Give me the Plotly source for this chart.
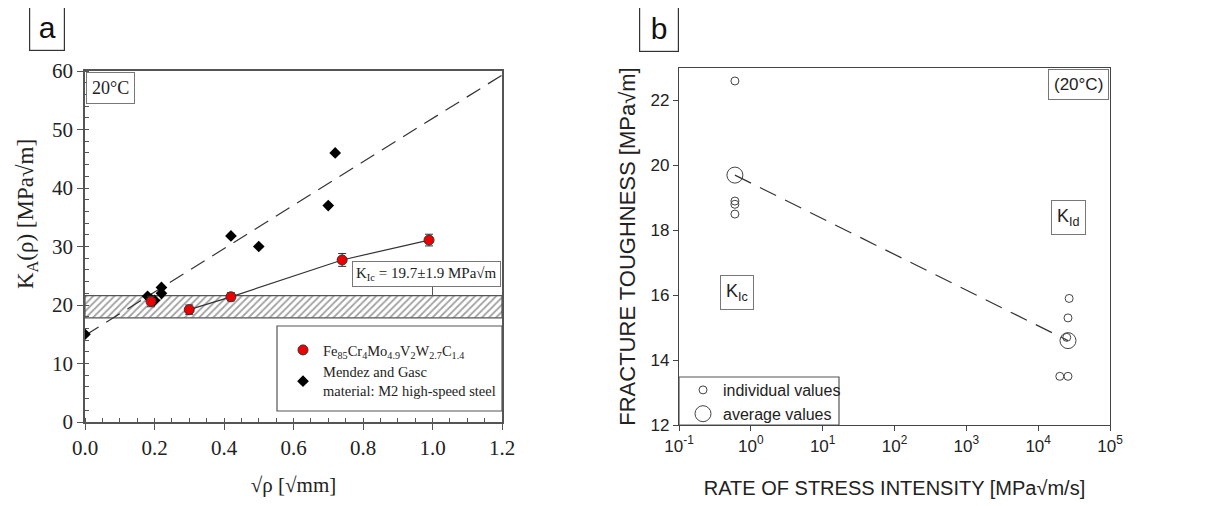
import plotly.graph_objects as go

W, H = 1211, 506

# ---------------- Data: panel a ----------------
fe_x = [0.19, 0.30, 0.42, 0.74, 0.99]
fe_y = [20.6, 19.2, 21.4, 27.7, 31.1]
fe_err = [0.9, 0.8, 0.7, 1.1, 1.0]

mg_x = [0.0, 0.18, 0.19, 0.20, 0.22, 0.22, 0.42, 0.50, 0.70, 0.72]
mg_y = [15.0, 21.5, 21.0, 20.8, 22.0, 23.0, 31.8, 30.0, 37.0, 46.0]

mg_fit_x = [0.0, 1.2]
mg_fit_y = [14.8, 59.3]

kic_value = 19.7
kic_err = 1.9
band_x = [0.0, 1.2]

# ---------------- Data: panel b ----------------
ind_x = [0.6, 0.6, 0.6, 0.6, 2.7e4, 2.6e4, 2.5e4, 2.0e4, 2.6e4]
ind_y = [22.6, 18.9, 18.8, 18.5, 15.9, 15.3, 14.7, 13.5, 13.5]
avg_x = [0.6, 2.6e4]
avg_y = [19.7, 14.6]

log_tickvals = [0.1, 1, 10, 100, 1000, 10000, 100000]
log_ticktext = ["10<sup>-1</sup>", "10<sup>0</sup>", "10<sup>1</sup>", "10<sup>2</sup>",
                "10<sup>3</sup>", "10<sup>4</sup>", "10<sup>5</sup>"]

SERIF = "Liberation Serif"
SANS = "Liberation Sans"

OFF = 8  # page body margin

def px_x(p):
    return (p - OFF) / W

def px_y(p):
    return 1 - (p - OFF) / H

# plot areas (pixels in the screenshot)
aL, aR, aT, aB = 85, 502, 71, 422
bL, bR, bT, bB = 679, 1110, 68, 425

fig = go.Figure()

# hatched band
fig.add_trace(go.Scatter(
    x=[band_x[0], band_x[1], band_x[1], band_x[0], band_x[0]],
    y=[kic_value - kic_err, kic_value - kic_err, kic_value + kic_err, kic_value + kic_err, kic_value - kic_err],
    mode="lines", fill="toself", fillcolor="rgba(255,255,255,0)",
    fillpattern=dict(shape="/", fgcolor="#444", bgcolor="white", size=5, solidity=0.35),
    line=dict(color="#555", width=1.2), showlegend=False, hoverinfo="skip",
    xaxis="x", yaxis="y"))

# Mendez fit
fig.add_trace(go.Scatter(x=mg_fit_x, y=mg_fit_y, mode="lines",
                         line=dict(color="#333", width=1.2, dash="16px,9px"),
                         showlegend=False, xaxis="x", yaxis="y"))
# Fe line
fig.add_trace(go.Scatter(x=fe_x[1:], y=fe_y[1:], mode="lines",
                         line=dict(color="#333", width=1.2),
                         showlegend=False, xaxis="x", yaxis="y"))

fig.add_trace(go.Scatter(x=mg_x, y=mg_y, mode="markers",
                         marker=dict(symbol="diamond", size=9, color="black"),
                         name="Mendez and Gasc<br>material: M2 high-speed steel",
                         legend="legend", xaxis="x", yaxis="y"))
fig.add_trace(go.Scatter(x=fe_x, y=fe_y, mode="markers",
                         error_y=dict(type="data", array=fe_err, color="#333", thickness=1, width=4),
                         marker=dict(symbol="circle", size=10, color="#ee0000",
                                     line=dict(color="#333", width=1)),
                         name="Fe<sub>85</sub>Cr<sub>4</sub>Mo<sub>4.9</sub>V<sub>2</sub>W<sub>2.7</sub>C<sub>1.4</sub>",
                         legend="legend", xaxis="x", yaxis="y"))

# panel b
fig.add_trace(go.Scatter(x=avg_x, y=avg_y, mode="lines",
                         line=dict(color="#333", width=1.2, dash="18px,10px"),
                         showlegend=False, xaxis="x2", yaxis="y2"))
fig.add_trace(go.Scatter(x=ind_x, y=ind_y, mode="markers",
                         marker=dict(symbol="circle-open", size=8, color="#444", line=dict(width=1)),
                         name="individual values", legend="legend2", xaxis="x2", yaxis="y2"))
fig.add_trace(go.Scatter(x=avg_x, y=avg_y, mode="markers",
                         marker=dict(symbol="circle-open", size=16, color="#444", line=dict(width=1)),
                         name="average values", legend="legend2", xaxis="x2", yaxis="y2"))

axcol = "#555"
fig.update_layout(
    width=W, height=H, margin=dict(l=0, r=0, t=0, b=0, autoexpand=False),
    paper_bgcolor="white", plot_bgcolor="white",
    font=dict(family=SERIF, color="#222"),
    xaxis=dict(domain=[px_x(aL), px_x(aR)], range=[0, 1.2], anchor="y", automargin=False,
               tickvals=[0, 0.2, 0.4, 0.6, 0.8, 1.0, 1.2],
               ticktext=["0.0", "0.2", "0.4", "0.6", "0.8", "1.0", "1.2"],
               ticks="outside", ticklen=6, tickcolor=axcol, showline=True, linecolor=axcol,
               linewidth=1.5, mirror=True, showgrid=False, zeroline=False,
               tickfont=dict(family=SERIF, size=21, color="#222"),
               minor=dict(dtick=0.05, ticks="inside", ticklen=4, tickcolor=axcol),
               title=dict(text="√ρ [√mm]", font=dict(family=SERIF, size=21, color="#222"), standoff=18)),
    yaxis=dict(domain=[px_y(aB), px_y(aT)], range=[0, 60], anchor="x", automargin=False,
               dtick=10, ticks="outside", ticklen=6, tickcolor=axcol, showline=True, linecolor=axcol,
               linewidth=1.5, mirror=True, showgrid=False, zeroline=False,
               tickfont=dict(family=SERIF, size=21, color="#222"),
               minor=dict(dtick=2, ticks="inside", ticklen=4, tickcolor=axcol)),
    xaxis3=dict(domain=[px_x(aL), px_x(aR)], range=[0, 1.2], overlaying="x", side="top",
                anchor="y", dtick=0.2, ticks="inside", ticklen=4, tickcolor=axcol, automargin=False,
                showticklabels=False, showgrid=False, zeroline=False,
                minor=dict(dtick=0.1, ticks="inside", ticklen=4, tickcolor=axcol)),
    xaxis2=dict(domain=[px_x(bL), px_x(bR)], type="log", range=[-1, 5], anchor="y2", automargin=False,
                tickvals=log_tickvals, ticktext=log_ticktext,
                ticks="outside", ticklen=5, tickcolor="#444", showline=True, linecolor="#444",
                linewidth=1.2, mirror=True, showgrid=False, zeroline=False,
                tickfont=dict(family=SANS, size=17, color="#222"),
                title=dict(text="RATE OF STRESS INTENSITY [MPa√m/s]",
                           font=dict(family=SANS, size=20, color="#222"), standoff=26)),
    yaxis2=dict(domain=[px_y(bB), px_y(bT)], range=[12, 23], anchor="x2", automargin=False,
                tickvals=[12, 14, 16, 18, 20, 22],
                ticks="outside", ticklen=5, tickcolor="#444", showline=True, linecolor="#444",
                linewidth=1.2, mirror=True, showgrid=False, zeroline=False,
                tickfont=dict(family=SANS, size=17, color="#222"),
                title=dict(text="FRACTURE TOUGHNESS [MPa√m]",
                           font=dict(family=SANS, size=22, color="#222"), standoff=8)),
    legend=dict(x=px_x(283), y=px_y(334), xanchor="left", yanchor="top",
                bgcolor="rgba(0,0,0,0)", borderwidth=0, traceorder="reversed",
                font=dict(family=SERIF, size=14.5, color="#222"), tracegroupgap=5,
                itemsizing="trace"),
    legend2=dict(x=px_x(683), y=px_y(373), xanchor="left", yanchor="top",
                 bgcolor="rgba(0,0,0,0)", borderwidth=0,
                 font=dict(family=SANS, size=16, color="#222"), itemsizing="trace",
                 tracegroupgap=0),
)

shapes = [
    # legend box a
    dict(type="rect", xref="paper", yref="paper", x0=px_x(277), x1=px_x(502), y0=px_y(411), y1=px_y(326),
         line=dict(color="#555", width=1.2), fillcolor="white", layer="below"),
    # legend box b
    dict(type="rect", xref="paper", yref="paper", x0=px_x(679), x1=px_x(839), y0=px_y(425), y1=px_y(377),
         line=dict(color="#555", width=1.2), fillcolor="white", layer="below"),
    # connector K_Ic box to band
    dict(type="line", xref="x", yref="y", x0=1.0, x1=1.0, y0=kic_value + kic_err, y1=23.2,
         line=dict(color="#555", width=1)),
]
fig.update_layout(shapes=shapes)

ann = [
    dict(text="a", x=px_x(47), y=px_y(28), font=dict(family=SANS, size=30, color="#111"),
         bordercolor="#333", borderwidth=1.2, borderpad=6, bgcolor="white", width=22,
         xanchor="center", yanchor="middle"),
    dict(text="b", x=px_x(659), y=px_y(29), font=dict(family=SANS, size=30, color="#111"),
         bordercolor="#333", borderwidth=1.2, borderpad=6, bgcolor="white", width=26,
         xanchor="center", yanchor="middle"),
    dict(text="K<sub>A</sub>(ρ) [MPa√m]", x=px_x(27), y=px_y(214), textangle=-90,
         xanchor="center", yanchor="middle",
         font=dict(family=SERIF, size=23, color="#222")),
    dict(text="20°C", x=px_x(86), y=px_y(72), xanchor="left", yanchor="top",
         font=dict(family=SERIF, size=18, color="#222"),
         bordercolor="#777", borderwidth=1, borderpad=5, bgcolor="white"),
    dict(text="K<sub>Ic</sub> = 19.7±1.9 MPa√m", x=px_x(501), y=px_y(261), xanchor="right", yanchor="top",
         font=dict(family=SERIF, size=15, color="#222"),
         bordercolor="#777", borderwidth=1, borderpad=3, bgcolor="white"),
    dict(text="(20°C)", x=px_x(1109), y=px_y(69), xanchor="right", yanchor="top",
         font=dict(family=SANS, size=17, color="#222"),
         bordercolor="#777", borderwidth=1, borderpad=5, bgcolor="white"),
    dict(text="K<sub>Ic</sub>", x=px_x(737), y=px_y(292), xanchor="center", yanchor="middle",
         font=dict(family=SANS, size=18, color="#222"),
         bordercolor="#777", borderwidth=1, borderpad=5, bgcolor="white"),
    dict(text="K<sub>Id</sub>", x=px_x(1068), y=px_y(217), xanchor="center", yanchor="middle",
         font=dict(family=SANS, size=18, color="#222"),
         bordercolor="#777", borderwidth=1, borderpad=5, bgcolor="white"),
]
for a in ann:
    a.setdefault("xref", "paper")
    a.setdefault("yref", "paper")
    a.setdefault("showarrow", False)
fig.update_layout(annotations=ann)

fig.write_html("out.html")
